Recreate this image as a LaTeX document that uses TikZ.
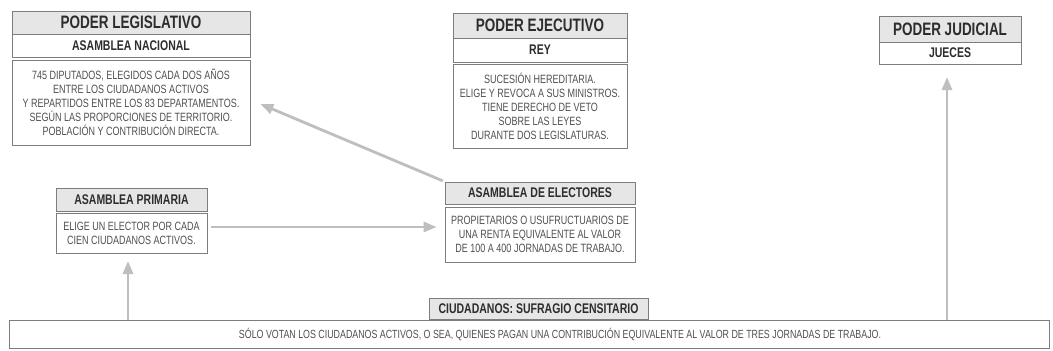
\documentclass[tikz,border=0pt]{standalone}
\usepackage{fontspec}
\setmainfont{Liberation Sans}[FakeStretch=0.75]
\usetikzlibrary{arrows.meta,calc}
\definecolor{boxline}{RGB}{125,125,125}
\definecolor{titlefill}{RGB}{230,230,230}
\definecolor{titletext}{RGB}{45,45,45}
\definecolor{bodytext}{RGB}{80,80,80}
\definecolor{arrowgray}{RGB}{190,190,190}
\tikzset{
  box/.style={draw=boxline, line width=0.7pt, rectangle, inner sep=0pt, align=center},
  titlebox/.style={box, fill=titlefill, text=titletext, font=\fontsize{18}{20}\selectfont\bfseries},
  subbox/.style={box, fill=white, text=titletext, font=\fontsize{14}{16}\selectfont\bfseries},
  smalltitle/.style={box, fill=titlefill, text=titletext, font=\fontsize{14}{16}\selectfont\bfseries},
  bodybox/.style={box, fill=white, text=bodytext, font=\fontsize{12}{14}\selectfont},
  arr/.style={draw=arrowgray, line width=2.8pt, -{Triangle[length=13pt,width=10pt]}, color=arrowgray},
}
\begin{document}
\begin{tikzpicture}[x=1pt,y=-1pt]
\useasboundingbox (0,0) rectangle (1053,351);
% Legislativo
\node[titlebox, minimum width=238pt, minimum height=23pt] (legT) at (131,22.5) {PODER LEGISLATIVO};
\node[subbox, minimum width=238pt, minimum height=23pt] (legS) at (131,45.5) {ASAMBLEA NACIONAL};
\node[bodybox, minimum width=238pt, minimum height=85pt] (legB) at (131,102.5) {745 DIPUTADOS, ELEGIDOS CADA DOS AÑOS\\ENTRE LOS CIUDADANOS ACTIVOS\\Y REPARTIDOS ENTRE LOS 83 DEPARTAMENTOS.\\SEGÚN LAS PROPORCIONES DE TERRITORIO.\\POBLACIÓN Y CONTRIBUCIÓN DIRECTA.};
% Ejecutivo
\node[titlebox, minimum width=174pt, minimum height=25pt] (ejeT) at (540,25.5) {PODER EJECUTIVO};
\node[subbox, minimum width=174pt, minimum height=24pt] (ejeS) at (540,50) {REY};
\node[bodybox, minimum width=174pt, minimum height=84pt] (ejeB) at (540,106) {SUCESIÓN HEREDITARIA.\\ELIGE Y REVOCA A SUS MINISTROS.\\TIENE DERECHO DE VETO\\SOBRE LAS LEYES\\DURANTE DOS LEGISLATURAS.};
% Judicial
\node[titlebox, minimum width=142pt, minimum height=26pt] (judT) at (950,29) {PODER JUDICIAL};
\node[subbox, minimum width=142pt, minimum height=22pt] (judS) at (950,53) {JUECES};
% Asamblea primaria
\node[smalltitle, minimum width=151pt, minimum height=23pt] (priT) at (131.5,199.5) {ASAMBLEA PRIMARIA};
\node[bodybox, minimum width=151pt, minimum height=40pt] (priB) at (131.5,233) {ELIGE UN ELECTOR POR CADA\\CIEN CIUDADANOS ACTIVOS.};
% Asamblea de electores
\node[smalltitle, minimum width=190pt, minimum height=22pt] (eleT) at (540,193) {ASAMBLEA DE ELECTORES};
\node[bodybox, minimum width=190pt, minimum height=55pt] (eleB) at (540,234.5) {PROPIETARIOS O USUFRUCTUARIOS DE\\UNA RENTA EQUIVALENTE AL VALOR\\DE 100 A 400 JORNADAS DE TRABAJO.};
% Ciudadanos
\node[smalltitle, minimum width=219pt, minimum height=21pt] (ciuT) at (538.5,308.5) {CIUDADANOS: SUFRAGIO CENSITARIO};
\node[bodybox, minimum width=1040pt, minimum height=28pt, font=\fontsize{11.8}{13}\selectfont] (ciuB) at (529,334) {\hspace*{62pt}SÓLO VOTAN LOS CIUDADANOS ACTIVOS, O SEA, QUIENES PAGAN UNA CONTRIBUCIÓN EQUIVALENTE AL VALOR DE TRES JORNADAS DE TRABAJO.};
% Arrows
\coordinate (priTip) at (128,261);
\coordinate (priBase) at (128,320);
\coordinate (judTip) at (947,77);
\coordinate (judBase) at (947,320);
\draw[arr] (priBase) -- (priTip);
\draw[arr] (judBase) -- (judTip);
\draw[arr, shorten <=4pt, shorten >=8pt] (priB.east |- 0,227) -- (eleB.west |- 0,227);
\coordinate (legTip) at ($(legB.east)+(10,1.5)$);
\draw[arr, shorten <=2pt] (eleT.north west) -- (legTip);
\end{tikzpicture}
\end{document}
